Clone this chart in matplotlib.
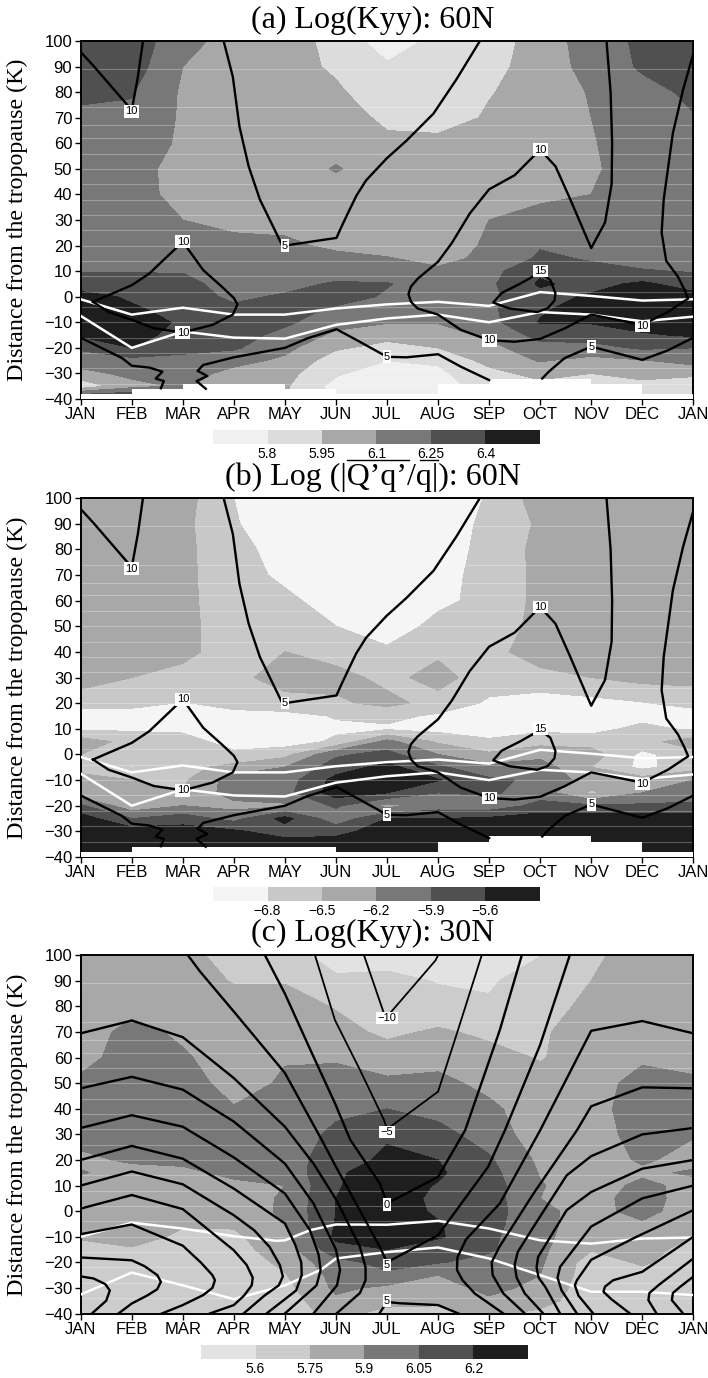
#!/usr/bin/env python3
"""Seasonal cycle of Kyy and eddy flux relative to the tropopause, three stacked panels."""
import matplotlib
matplotlib.use("Agg")
import matplotlib.pyplot as plt
from matplotlib.lines import Line2D

W = 708; H = 1378
NARROW = ["Liberation Sans Narrow", "Liberation Sans", "DejaVu Sans"]
SERIF = ["Liberation Serif", "DejaVu Serif"]

months = list(range(13))
month_labels = ["JAN", "FEB", "MAR", "APR", "MAY", "JUN", "JUL", "AUG", "SEP", "OCT", "NOV", "DEC", "JAN"]
rows_y = [100, 90, 80, 70, 60, 50, 40, 30, 20, 15, 10, 5, 0, -5, -10, -15, -20, -25, -30, -35, -40]
streak_y = [89, 74, 67, 62, 56, 50, 44, 38, 32, 26, 20, 14, 8, 2, -4, -10, -16, -22, -28, -34]

# shaded fields, one row per level in rows_y, one column per month
kyy_60n = [
    [6.32, 6.32, 6.17, 6.02, 6.02, 5.90, 5.72, 5.84, 5.87, 6.02, 6.17, 6.28, 6.32],
    [6.32, 6.32, 6.10, 6.02, 6.00, 5.93, 5.82, 5.87, 5.90, 6.02, 6.15, 6.27, 6.32],
    [6.30, 6.26, 6.08, 6.02, 6.02, 5.97, 5.87, 5.87, 5.94, 6.02, 6.11, 6.20, 6.28],
    [6.20, 6.22, 6.08, 6.02, 6.00, 6.02, 5.92, 5.87, 5.97, 6.02, 6.10, 6.20, 6.24],
    [6.17, 6.17, 6.08, 6.02, 6.02, 6.05, 5.98, 6.00, 6.00, 6.02, 6.09, 6.17, 6.20],
    [6.17, 6.17, 6.03, 6.02, 6.03, 6.11, 6.03, 6.03, 6.03, 6.03, 6.08, 6.17, 6.17],
    [6.17, 6.17, 6.04, 6.02, 6.02, 6.03, 6.03, 6.04, 6.05, 6.07, 6.10, 6.17, 6.17],
    [6.17, 6.17, 6.10, 6.05, 6.05, 6.03, 6.02, 6.02, 6.10, 6.15, 6.12, 6.17, 6.17],
    [6.17, 6.17, 6.17, 6.15, 6.13, 6.07, 6.03, 6.03, 6.12, 6.24, 6.17, 6.17, 6.17],
    [6.17, 6.18, 6.17, 6.17, 6.15, 6.14, 6.11, 6.05, 6.14, 6.27, 6.24, 6.20, 6.17],
    [6.24, 6.24, 6.24, 6.20, 6.17, 6.17, 6.15, 6.13, 6.20, 6.37, 6.28, 6.26, 6.24],
    [6.33, 6.32, 6.30, 6.18, 6.20, 6.27, 6.26, 6.17, 6.22, 6.42, 6.35, 6.43, 6.33],
    [6.45, 6.38, 6.32, 6.22, 6.27, 6.32, 6.23, 6.17, 6.22, 6.35, 6.42, 6.47, 6.45],
    [6.47, 6.42, 6.35, 6.28, 6.32, 6.22, 6.17, 6.15, 6.22, 6.38, 6.47, 6.47, 6.47],
    [6.47, 6.47, 6.38, 6.32, 6.28, 6.15, 6.11, 6.11, 6.20, 6.41, 6.41, 6.47, 6.47],
    [6.42, 6.47, 6.33, 6.32, 6.20, 6.07, 6.00, 6.02, 6.13, 6.30, 6.32, 6.38, 6.42],
    [6.27, 6.40, 6.28, 6.27, 6.14, 5.97, 5.90, 5.95, 6.05, 6.20, 6.20, 6.27, 6.25],
    [6.18, 6.20, 6.22, 6.15, 6.07, 5.87, 5.80, 5.82, 6.00, 6.11, 6.05, 6.09, 6.15],
    [6.05, 6.14, 6.17, 6.05, 6.00, 5.82, 5.72, 5.77, 5.90, 6.00, 5.95, 6.00, 6.00],
    [5.85, 6.05, 6.12, 6.00, 5.97, 5.75, 5.72, 5.75, 5.85, 5.90, 5.90, 5.90, 5.80],
    [6.47, 6.47, 6.10, 6.00, 5.97, 5.75, 5.72, 5.75, 5.85, 5.90, 5.90, 5.90, 5.80],
]
flux_60n = [
    [-6.35, -6.35, -6.38, -6.80, -6.95, -6.95, -6.95, -6.95, -6.78, -6.35, -6.35, -6.35, -6.35],
    [-6.35, -6.35, -6.42, -6.78, -6.95, -6.95, -6.95, -6.92, -6.75, -6.45, -6.35, -6.35, -6.35],
    [-6.35, -6.35, -6.42, -6.72, -6.90, -6.95, -6.95, -6.88, -6.75, -6.40, -6.35, -6.35, -6.35],
    [-6.35, -6.35, -6.42, -6.70, -6.85, -6.95, -6.95, -6.88, -6.72, -6.42, -6.35, -6.35, -6.35],
    [-6.35, -6.35, -6.42, -6.68, -6.75, -6.90, -6.95, -6.86, -6.72, -6.42, -6.35, -6.35, -6.35],
    [-6.35, -6.35, -6.42, -6.65, -6.70, -6.80, -6.95, -6.72, -6.65, -6.42, -6.35, -6.35, -6.35],
    [-6.35, -6.35, -6.42, -6.65, -6.50, -6.62, -6.75, -6.55, -6.60, -6.35, -6.35, -6.35, -6.35],
    [-6.35, -6.50, -6.60, -6.60, -6.35, -6.40, -6.58, -6.40, -6.65, -6.60, -6.50, -6.40, -6.40],
    [-6.68, -6.70, -6.82, -6.70, -6.62, -6.55, -6.42, -6.60, -6.85, -6.95, -6.90, -6.82, -6.70],
    [-6.95, -6.95, -6.95, -6.90, -6.90, -6.78, -6.72, -6.85, -6.95, -6.95, -6.95, -6.90, -6.95],
    [-6.85, -6.85, -6.85, -6.95, -6.95, -6.85, -6.85, -6.90, -6.95, -6.88, -6.90, -6.72, -6.85],
    [-6.35, -6.60, -6.70, -6.90, -6.95, -6.75, -6.10, -6.55, -6.75, -6.60, -6.65, -6.60, -6.35],
    [-6.50, -6.65, -6.60, -6.75, -6.60, -5.95, -5.80, -6.20, -6.45, -6.30, -6.35, -6.88, -6.60],
    [-6.60, -6.82, -6.60, -6.40, -6.20, -5.75, -5.50, -5.85, -6.10, -6.05, -6.50, -6.88, -6.62],
    [-6.40, -6.50, -6.55, -6.05, -6.05, -5.50, -5.45, -5.58, -5.85, -5.95, -6.35, -6.35, -6.20],
    [-6.45, -6.45, -6.50, -6.05, -6.00, -5.45, -5.60, -5.90, -5.85, -6.05, -6.55, -6.20, -6.15],
    [-5.85, -6.40, -6.20, -6.30, -6.25, -5.85, -6.30, -6.05, -6.10, -5.80, -5.85, -5.85, -5.80],
    [-5.45, -5.90, -5.75, -6.00, -5.50, -6.10, -5.60, -5.60, -5.55, -5.45, -5.45, -5.45, -5.45],
    [-5.45, -5.45, -5.45, -5.55, -5.75, -5.70, -5.45, -5.45, -5.45, -5.45, -5.45, -5.45, -5.45],
    [-5.45, -5.45, -5.45, -5.45, -5.45, -5.45, -5.45, -5.45, -5.45, -5.45, -5.45, -5.45, -5.45],
    [-5.45, -5.45, -5.45, -5.45, -5.45, -5.45, -5.45, -5.45, -5.45, -5.45, -5.45, -5.45, -5.45],
]
kyy_30n = [
    [5.82, 5.82, 5.79, 5.70, 5.65, 5.55, 5.52, 5.55, 5.55, 5.595, 5.72, 5.82, 5.82],
    [5.82, 5.82, 5.82, 5.74, 5.74, 5.62, 5.65, 5.59, 5.58, 5.68, 5.75, 5.82, 5.82],
    [5.82, 5.85, 5.82, 5.82, 5.82, 5.74, 5.70, 5.66, 5.62, 5.70, 5.78, 5.82, 5.82],
    [5.82, 5.95, 5.87, 5.82, 5.84, 5.80, 5.72, 5.77, 5.72, 5.73, 5.82, 5.82, 5.82],
    [5.85, 5.97, 5.92, 5.82, 5.89, 5.88, 5.82, 5.85, 5.80, 5.74, 5.82, 5.87, 5.86],
    [5.93, 5.98, 5.97, 5.84, 5.92, 5.97, 5.93, 5.94, 5.86, 5.80, 5.82, 5.97, 5.92],
    [5.97, 5.98, 5.98, 5.91, 5.97, 6.02, 6.05, 6.00, 5.93, 5.82, 5.85, 5.97, 5.93],
    [5.95, 5.98, 5.97, 5.97, 5.97, 6.08, 6.18, 6.10, 5.98, 5.82, 5.82, 5.97, 5.91],
    [5.87, 5.92, 5.92, 5.95, 5.98, 6.13, 6.23, 6.20, 6.07, 5.87, 5.82, 5.92, 5.85],
    [5.91, 5.85, 5.88, 5.92, 5.95, 6.18, 6.27, 6.22, 6.10, 5.89, 5.82, 5.87, 5.92],
    [5.83, 5.82, 5.83, 5.88, 5.90, 6.19, 6.27, 6.19, 6.12, 5.91, 5.82, 5.94, 5.85],
    [5.82, 5.82, 5.80, 5.82, 5.92, 6.20, 6.27, 6.17, 6.12, 5.90, 5.84, 5.97, 5.82],
    [5.82, 5.82, 5.78, 5.80, 5.93, 6.20, 6.27, 6.18, 6.12, 5.93, 5.85, 5.95, 5.82],
    [5.82, 5.82, 5.76, 5.77, 5.90, 6.21, 6.27, 6.21, 6.10, 5.94, 5.83, 5.88, 5.80],
    [5.76, 5.79, 5.73, 5.72, 5.86, 6.23, 6.27, 6.22, 6.08, 5.94, 5.80, 5.83, 5.75],
    [5.72, 5.74, 5.70, 5.70, 5.82, 6.15, 6.20, 6.10, 6.07, 5.93, 5.76, 5.80, 5.70],
    [5.67, 5.70, 5.67, 5.67, 5.78, 6.00, 6.10, 6.06, 6.00, 5.92, 5.68, 5.77, 5.67],
    [5.67, 5.67, 5.67, 5.67, 5.74, 5.95, 6.02, 5.90, 5.98, 5.90, 5.67, 5.70, 5.67],
    [5.67, 5.67, 5.67, 5.67, 5.70, 5.93, 5.87, 5.82, 5.95, 5.85, 5.67, 5.67, 5.67],
    [5.67, 5.67, 5.67, 5.67, 5.67, 5.87, 5.80, 5.77, 5.87, 5.80, 5.67, 5.67, 5.67],
    [5.67, 5.67, 5.67, 5.67, 5.67, 5.80, 5.70, 5.72, 5.78, 5.72, 5.67, 5.67, 5.67],
]

levels_a = [5.8, 5.95, 6.1, 6.25, 6.4]
levels_b = [-6.8, -6.5, -6.2, -5.9, -5.6]
levels_c = [5.6, 5.75, 5.9, 6.05, 6.2]
ticks_a = ["5.8", "5.95", "6.1", "6.25", "6.4"]
ticks_b = ["\u22126.8", "\u22126.5", "\u22126.2", "\u22125.9", "\u22125.6"]
ticks_c = ["5.6", "5.75", "5.9", "6.05", "6.2"]
grays_a = ["#f0f0f0", "#dcdcdc", "#a8a8a8", "#787878", "#505050", "#1e1e1e"]
grays_b = ["#f5f5f5", "#c8c8c8", "#a8a8a8", "#787878", "#505050", "#1e1e1e"]
grays_c = ["#e2e2e2", "#cccccc", "#a8a8a8", "#787878", "#505050", "#1e1e1e"]

# top of the missing data at the bottom of each month
missing_a = [-38, -36, -34, -34, -36, -38, -38, -34, -32, -32, -34, -38]
missing_b = [-38, -36, -36, -36, -36, -38, -38, -34, -32, -32, -34, -38]

# line contours shared by the 60N panels
n60_topleft = [(0, 95.7), (0.24, 90.5), (1, 73), (1.12, 86), (1.22, 100)]
n60_five = [(2.8, 100), (2.98, 86), (3.11, 66.5), (3.29, 51), (3.51, 38), (3.73, 29), (3.95, 20), (4, 20),
            (5.01, 23), (5.1, 27), (5.23, 32.5), (5.4, 39.5), (5.59, 45.5), (5.99, 54), (6.38, 61), (6.91, 71.6),
            (7.36, 85), (7.82, 100)]
n60_ten_right = [(10.3, 100), (10.38, 80), (10.41, 60), (10.4, 44), (10.27, 29), (10, 19), (9.57, 39), (9.3, 51),
                 (9, 57.5), (8.5, 47.5), (8, 42), (7.62, 32.5), (7.27, 21), (7, 13.7), (6.6, 7), (6.47, 4),
                 (6.42, 1), (6.47, -2), (6.6, -4.6), (7, -7), (7.45, -13), (8, -17), (8.5, -17.6), (9, -16.5),
                 (9.48, -12.4), (10, -7), (11, -11), (11.5, -6), (11.9, -0.7), (11.82, 3), (11.7, 7.8), (11.47, 14),
                 (11.38, 25), (11.42, 38), (11.6, 64), (11.8, 81), (12, 95)]
n60_ten_left = [(0.24, -2), (1, 4.5), (1.34, 9), (2, 21.5), (2.4, 10.4), (2.76, 4), (3, -0.5), (3.07, -3), (2.98, -7),
                (2.58, -11), (2, -14), (1.43, -12.3), (1, -9), (0.55, -6), (0.24, -2)]
n60_fifteen = [(9, 9.5), (8.6, 5), (8.25, 1.5), (8.08, -2.3), (8.4, -4.6), (8.94, -6), (9.15, -4.5), (9.28, -1.5),
               (9.3, 1.3), (9.2, 6.5), (9, 9.5)]
n60_low_a = [(0, -16), (0.81, -24), (1, -27), (1.34, -27.7), (1.6, -29.3), (1.47, -32), (1.63, -33), (1.57, -35.8)]
n60_low_b = [(2.45, -36), (2.27, -33), (2.48, -31), (2.29, -29), (2.4, -26.7), (3, -23.7), (4, -20), (4.44, -16.3),
             (5.01, -12.7), (5.41, -17), (6, -23.5), (6.38, -23.7), (7, -22.5), (7.45, -27.4), (8, -32.6)]
n60_low_c = [(9.04, -32), (9.17, -29.3), (9.48, -24), (10, -19.5), (11, -24.7), (11.5, -21), (12, -16)]
n60_lines = [n60_topleft, n60_five, n60_ten_right, n60_ten_left, n60_fifteen, n60_low_a, n60_low_b, n60_low_c]
n60_upper_white = [(0, -1), (1, -7), (2, -4.3), (3, -7), (4, -7), (5, -4.6), (6, -3), (7, -2), (8, -3.6), (9, 1.8),
                   (10, 0.3), (11, -1.5), (12, -1)]
n60_lower_white = [(0, -7.5), (1, -20), (2, -13.6), (3, -16), (4, -16.4), (5, -11), (6, -8.5), (7, -7), (8, -10),
                   (9, -6), (10, -7), (11, -9.6), (12, -7.8)]
n60_labels = [(1, 72.5, "10"), (2, 21.5, "10"), (4, 20, "5"), (9, 57.5, "10"), (9, 10, "15"), (2, -14, "10"),
              (8, -17, "10"), (11, -11.5, "10"), (10, -19.5, "5"), (6, -23.5, "5")]

# line contours of the 30N panel
n30_a = [(0, -25.5), (0.25, -26.3), (0.48, -28.5), (0.57, -31), (0.5, -35), (0.22, -40)]
n30_b = [(0, -18.1), (1, -19.2), (1.25, -21.5), (1.5, -25), (1.57, -27.6), (1.5, -30.5), (1.3, -33), (1, -36.1), (0.74, -40)]
n30_c = [(0, -9), (1, -5.2), (2, -13.5), (2.35, -20), (2.58, -25), (2.63, -27), (2.58, -30), (2.4, -32.8), (2, -36.7), (1.59, -40)]
n30_d = [(0, 1), (1, 6.3), (2, 0.8), (3, -15.3), (3.25, -21), (3.37, -26), (3.35, -29), (3.2, -33), (3, -36.7), (2.53, -40)]
n30_e = [(0, 10), (1, 15.5), (2, 10.5), (3, -1.6), (3.4, -7.5), (3.7, -14), (3.9, -21), (3.96, -25.5), (3.88, -29), (3.6, -33), (3.19, -40)]
n30_f = [(0, 20), (1, 25.5), (2, 20.5), (3, 8.8), (4, -4.8), (4.2, -13), (4.32, -20), (4.33, -25), (4.22, -31), (3.64, -40)]
n30_g = [(0, 32.5), (1, 37.5), (2, 33), (3, 21), (4, 6.9), (4.49, -7.4), (4.66, -17), (4.7, -23), (4.62, -29), (4, -40)]
n30_h = [(0, 48), (1, 52.5), (2, 47.5), (3, 35), (4, 18.6), (4.56, 3), (5, -15), (5.08, -23), (5.02, -29), (4.56, -40)]
n30_i = [(0, 69.5), (1, 74.5), (2, 68), (3, 52), (4, 33), (4.56, 18.6), (5.01, 4.3), (5.47, -14), (5.58, -22), (5.58, -27), (5.47, -32), (5.01, -40)]
n30_five = [(2.1, 100), (2.34, 93.6), (3, 78), (4, 54), (4.72, 27.9), (5.01, 17), (5.86, -14), (6, -20), (7, -9.4),
            (7.17, -4.8), (7.98, 17.3), (8.31, 31.6), (9, 65), (9.58, 100)]
n30_zero = [(3.61, 100), (4, 85), (4.5, 63), (4.98, 42.2), (5.28, 27.9), (5.86, 10.8), (6, 3), (7, 13.4),
            (7.53, 31.6), (8.21, 70.8), (8.64, 100)]
n30_j = [(12, 69.5), (11, 74.3), (10, 70.5), (9, 31.6), (8.21, 3), (7.55, -11), (7.38, -18), (7.37, -23), (7.48, -27), (7.72, -32.2), (8.28, -40)]
n30_k = [(12, 48), (11, 48.4), (10, 41), (9.72, 31.6), (8.87, 6.9), (8.2, -14), (8.05, -20), (8.07, -25), (8.28, -32.2), (8.7, -40)]
n30_l = [(12, 32.5), (11, 30), (10, 21.5), (9.52, 14), (8.87, -6.1), (8.56, -16), (8.5, -21), (8.54, -26), (8.7, -32.2), (9.06, -40)]
n30_m = [(12, 20), (11, 16.6), (10, 7.5), (9.52, 0.4), (8.96, -17.9), (8.93, -22), (8.97, -26), (9.1, -29.6), (9.39, -40)]
n30_n = [(12, 10), (11, 5), (10, -6), (9.39, -21.8), (9.34, -26), (9.42, -31), (9.72, -40)]
n30_o = [(12, 0.4), (10.89, -10), (10, -19), (9.72, -27), (9.68, -29), (9.75, -33), (10.04, -40)]
n30_p = [(12, -10), (11, -23.7), (10.43, -27), (10.27, -29.5), (10.24, -31.5), (10.4, -34.5), (10.76, -40)]
n30_q = [(12, -18.5), (11.32, -28.9), (11.14, -32), (11.12, -34.8), (11.28, -40)]
n30_r = [(12, -25.6), (11.74, -29.6), (11.6, -32), (11.58, -34.8), (11.8, -40)]
n30_low = [(5.85, -40), (6, -35.5), (6.25, -36), (7, -36.7), (7.4, -40)]
n30_lines = [n30_a, n30_b, n30_c, n30_d, n30_e, n30_f, n30_g, n30_h, n30_i, n30_five, n30_zero, n30_j, n30_k,
             n30_l, n30_m, n30_n, n30_o, n30_p, n30_q, n30_r, n30_low]
n30_neg5 = [(4.59, 100), (4.98, 74.7), (5.47, 55.2), (5.94, 35.7), (6, 32), (7, 46.7), (7.37, 69.5), (7.855, 100)]
n30_neg10 = [(5.55, 100), (5.94, 77.3), (6, 76), (6.95, 98), (7, 100)]
n30_thin = [n30_neg5, n30_neg10]
n30_upper_white = [(0, -10), (1, -4.5), (2, -6.8), (3, -9.8), (3.84, -11.6), (4, -11.4), (4.5, -7.4), (5, -5.2),
                   (6, -5.3), (7, -3.8), (8, -6.8), (9, -11.4), (10, -12.7), (11, -10.7), (12, -10.3)]
n30_lower_white = [(0, -32.6), (1, -24), (2, -29), (3, -34.4), (4, -29), (4.7, -23), (5, -18.5), (6, -16), (7, -14.2),
                   (8, -18.5), (9, -25), (10, -31.5), (11, -31.5), (12, -32.8)]
n30_labels = [(6, 75.5, "\u221210"), (6, 31, "\u22125"), (6, 2.5, "0"), (6, -21, "5"), (6, -35, "5")]

fig = plt.figure(figsize=(W / 100, H / 100), dpi=100, facecolor="white")


def px_axes(left, top, right, bottom):
    return fig.add_axes([left / W, 1 - bottom / H, (right - left) / W, (bottom - top) / H])


def panel(top, bottom, field, levels, grays, tick_text, bar_left, bar_top, title, title_y, missing,
          lines, thin, whites, labels):
    ax = px_axes(80.7, top, 693.3, bottom)
    cf = ax.contourf(months, rows_y, field, levels=levels, colors=grays, extend="both", zorder=1)
    ax.hlines(streak_y, 0, 12, color="white", lw=0.8, alpha=0.28, zorder=2)
    if missing:
        ax.bar(months[:-1], [m + 40 for m in missing], width=1, bottom=-40, align="edge", color="white", zorder=3)
    for ln in whites:
        ax.plot(*zip(*ln), color="white", lw=1.8, zorder=4)
    for ln in lines:
        ax.plot(*zip(*ln), color="black", lw=1.7, zorder=5)
    for ln in thin:
        ax.plot(*zip(*ln), color="black", lw=1.3, zorder=5)
    for x, y, s in labels:
        ax.text(x, y, s, ha="center", va="center", fontsize=8, family=["Liberation Sans", "DejaVu Sans"], zorder=6,
                bbox=dict(boxstyle="square,pad=0.12", facecolor="white", edgecolor="none"))
    ax.set_xlim(0, 12); ax.set_ylim(-40, 100)
    ax.set_xticks(months); ax.set_xticklabels(month_labels)
    ax.set_yticks(range(-40, 101, 10))
    ax.set_yticklabels([str(v).replace("-", "\u2212") for v in range(-40, 101, 10)])
    ax.tick_params(length=4, width=1, pad=2, labelsize=12)
    for lab in ax.get_xticklabels() + ax.get_yticklabels():
        lab.set_family(NARROW)
    for s in ax.spines.values():
        s.set_linewidth(1.4)
    ax.set_ylabel("Distance from the tropopause (K)", fontsize=17.3, family=SERIF)
    ax.yaxis.set_label_coords(-0.086, 0.5)
    fig.text(373 / W, 1 - title_y / H, title, ha="center", va="center", fontsize=23, family=SERIF)

    cax = px_axes(bar_left, bar_top, bar_left + 327, bar_top + 14)
    cb = fig.colorbar(cf, cax=cax, orientation="horizontal", extendrect=True, extendfrac=0.25, spacing="uniform")
    cb.set_ticks(levels, labels=tick_text)
    cb.ax.tick_params(length=0, pad=2, labelsize=10)
    cb.outline.set_visible(False)
    cb.dividers.set_visible(False)
    for lab in cb.ax.get_xticklabels():
        lab.set_family(["Liberation Sans", "DejaVu Sans"])
    return ax


panel(41, 399, kyy_60n, levels_a, grays_a, ticks_a, 213, 430, "(a) Log(Kyy): 60N", 20, missing_a,
      n60_lines, [], [n60_upper_white, n60_lower_white], n60_labels)
panel(498, 857, flux_60n, levels_b, grays_b, ticks_b, 213, 887, "(b) Log (|Q\u2019q\u2019/q|): 60N", 477, missing_b,
      n60_lines, [], [n60_upper_white, n60_lower_white], n60_labels)
panel(955.3, 1313.5, kyy_30n, levels_c, grays_c, ticks_c, 201, 1345, "(c) Log(Kyy): 30N", 933, None,
      n30_lines, n30_thin, [n30_upper_white, n30_lower_white], n30_labels)

# overbars of the panel b title
fig.add_artist(Line2D([347 / W, 409 / W], [1 - 459.5 / H, 1 - 459.5 / H], color="black", lw=1))
fig.add_artist(Line2D([420 / W, 438 / W], [1 - 460 / H, 1 - 460 / H], color="black", lw=1))

fig.savefig("out.png", dpi=100, facecolor="white")
